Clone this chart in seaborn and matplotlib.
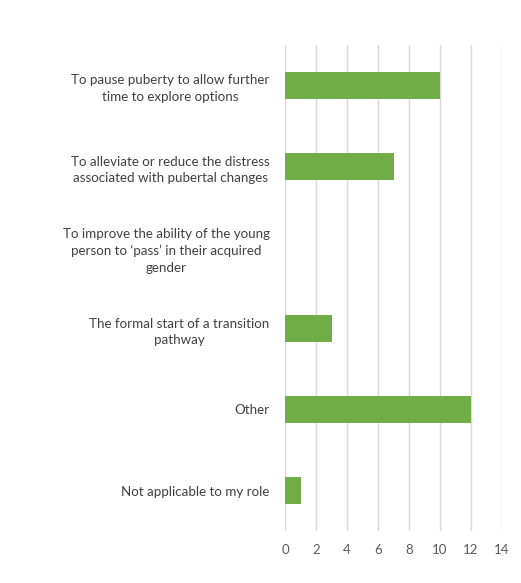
import matplotlib
matplotlib.use("Agg")
import matplotlib.pyplot as plt
import seaborn as sns
import pandas as pd

categories = [
    "To pause puberty to allow further\ntime to explore options",
    "To alleviate or reduce the distress\nassociated with pubertal changes",
    "To improve the ability of the young\nperson to \u2018pass\u2019 in their acquired\ngender",
    "The formal start of a transition\npathway",
    "Other",
    "Not applicable to my role",
]
values = [10, 7, 0, 3, 12, 1]
xticks = [0, 2, 4, 6, 8, 10, 12, 14]

sns.set_theme(style="white")
plt.rcParams['font.family'] = ['Lato', 'DejaVu Sans']

df = pd.DataFrame({"cat": categories, "val": values})

fig = plt.figure(figsize=(5.21, 5.83), dpi=100)
ax = fig.add_axes([285/521, 1-531/583, (502-285)/521, (531-45)/583])
sns.barplot(data=df, y="cat", x="val", orient="h", color="#70AD47",
            saturation=1, width=0.33, linewidth=0, ax=ax)
ax.set_xlim(0, 14)
ax.set_ylim(5.5, -0.5)
ax.set_xticks(xticks)
ax.set_xticklabels([str(t) for t in xticks], color="#595959", fontsize=9.5)
ax.xaxis.grid(True, color="#D9D9D9", linewidth=1)
ax.set_axisbelow(True)
for s in ax.spines.values():
    s.set_visible(False)
ax.set_xlabel("")
ax.set_ylabel("")
ax.tick_params(axis="x", length=0, pad=9)
ax.tick_params(axis="y", length=0, pad=11)
for lbl in ax.get_yticklabels():
    lbl.set_multialignment("center")
    lbl.set_linespacing(1.45)
    lbl.set_color("#404040")
    lbl.set_fontsize(9.6)
fig.savefig("out.png", dpi=100)
